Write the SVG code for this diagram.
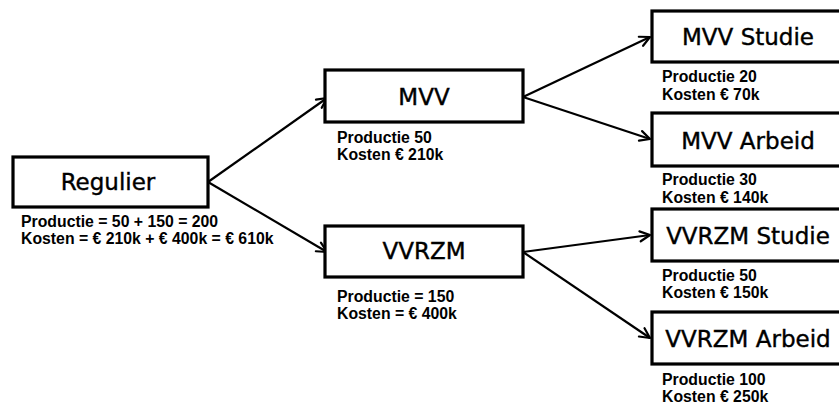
<svg xmlns="http://www.w3.org/2000/svg" width="839" height="408" viewBox="0 0 839 408">
<defs>
<style>
.box{fill:#fff;stroke:#000;stroke-width:3.2}
.t{font-family:"DejaVu Sans",sans-serif;font-size:23px;fill:#000;stroke:#000;stroke-width:0.4;text-anchor:middle}
.l{font-family:"Liberation Sans",Arial,sans-serif;font-weight:bold;font-size:15.8px;fill:#000}
.c{stroke:#000;stroke-width:2.2;fill:none;marker-end:url(#ah)}
</style>
<marker id="ah" markerUnits="userSpaceOnUse" markerWidth="14" markerHeight="14" viewBox="-12 -7 14 14" refX="0" refY="0" orient="auto">
<path d="M-10,-5 L0,0 L-10,5" fill="none" stroke="#000" stroke-width="2.2" stroke-linecap="round" stroke-linejoin="round"/>
</marker>
</defs>
<rect width="839" height="408" fill="#fff"/>
<g id="connectors">
<line class="c" x1="208" y1="182" x2="327" y2="98"/>
<line class="c" x1="208" y1="182" x2="327" y2="252"/>
<line class="c" x1="523" y1="97" x2="650" y2="37"/>
<line class="c" x1="523" y1="97" x2="650" y2="139"/>
<line class="c" x1="523" y1="252" x2="650" y2="235"/>
<line class="c" x1="523" y1="252" x2="650" y2="338"/>
</g>
<g id="regulier">
<rect class="box" x="13" y="157" width="195" height="50"/>
<text class="t" x="108" y="190">Regulier</text>
<text class="l" x="21" y="227">Productie = 50 + 150 = 200</text>
<text class="l" x="21" y="244">Kosten = € 210k + € 400k = € 610k</text>
</g>
<g id="mvv">
<rect class="box" x="325" y="70" width="198" height="52"/>
<text class="t" x="424" y="105">MVV</text>
<text class="l" x="337" y="143">Productie 50</text>
<text class="l" x="337" y="160">Kosten € 210k</text>
</g>
<g id="vvrzm">
<rect class="box" x="325" y="226" width="198" height="51"/>
<text class="t" x="424" y="259">VVRZM</text>
<text class="l" x="337" y="302">Productie = 150</text>
<text class="l" x="337" y="319">Kosten = € 400k</text>
</g>
<g id="mvv-studie">
<rect class="box" x="652" y="11" width="200" height="51"/>
<text class="t" x="748" y="45">MVV Studie</text>
<text class="l" x="662" y="82">Productie 20</text>
<text class="l" x="662" y="100">Kosten € 70k</text>
</g>
<g id="mvv-arbeid">
<rect class="box" x="652" y="113" width="200" height="53"/>
<text class="t" x="748" y="149">MVV Arbeid</text>
<text class="l" x="662" y="185">Productie 30</text>
<text class="l" x="662" y="203">Kosten € 140k</text>
</g>
<g id="vvrzm-studie">
<rect class="box" x="652" y="209" width="200" height="52"/>
<text class="t" x="748" y="244">VVRZM Studie</text>
<text class="l" x="662" y="281">Productie 50</text>
<text class="l" x="662" y="298">Kosten € 150k</text>
</g>
<g id="vvrzm-arbeid">
<rect class="box" x="652" y="312" width="200" height="52"/>
<text class="t" x="748" y="347">VVRZM Arbeid</text>
<text class="l" x="662" y="385">Productie 100</text>
<text class="l" x="662" y="402">Kosten € 250k</text>
</g>
</svg>
